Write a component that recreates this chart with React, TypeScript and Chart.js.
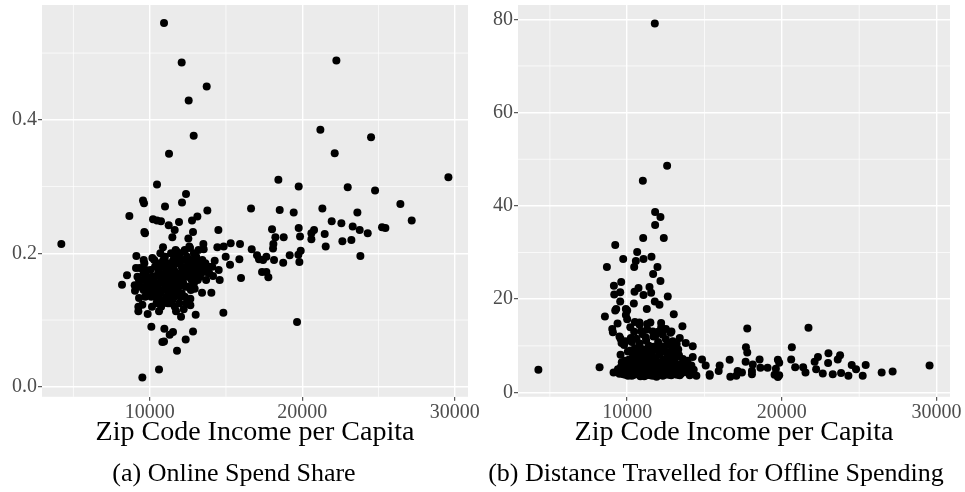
import React, { useEffect, useRef } from "react";
import { Chart, registerables } from "chart.js";

Chart.register(...registerables);

// ---------- axis ticks ----------
const incomeTicks = [10000, 20000, 30000];
const incomeMinorTicks = [5000, 15000, 25000];
const incomeRange = [2940, 30870];

const shareTicks = [0, 0.2, 0.4];
const shareMinorTicks = [0.1, 0.3, 0.5];
const shareRange = [-0.015, 0.572];

const distTicks = [0, 20, 40, 60, 80];
const distMinorTicks = [10, 30, 50, 70];
const distRange = [-0.92, 83.06];

// ---------- text ----------
const xAxisTitle = "Zip Code Income per Capita";
const captionA = "(a) Online Spend Share";
const captionB = "(b) Distance Travelled for Offline Spending";

// ---------- data: [income per capita, online spend share] ----------
const onlineShare: [number, number][] = [
  [4208, 0.214], [10940, 0.545], [12098, 0.486], [13738, 0.45], [12557, 0.429], [12885, 0.376],
  [11268, 0.349], [22240, 0.489], [21191, 0.385], [24514, 0.374], [22131, 0.35], [29585, 0.314],
  [18437, 0.31], [19770, 0.3], [22984, 0.299], [24776, 0.294], [10481, 0.303], [12383, 0.289],
  [9563, 0.279], [9628, 0.275], [12120, 0.276], [11005, 0.27], [16645, 0.267], [18525, 0.265],
  [21322, 0.267], [26437, 0.274], [19443, 0.261], [23617, 0.261], [13781, 0.264], [13126, 0.255],
  [12776, 0.249], [8667, 0.256], [10219, 0.251], [10481, 0.249], [10743, 0.248], [11923, 0.247],
  [11246, 0.242], [21934, 0.248], [22568, 0.245], [27180, 0.249], [11639, 0.235], [12842, 0.232],
  [9650, 0.232], [9694, 0.23], [14503, 0.235], [18022, 0.236], [19770, 0.238], [20776, 0.235],
  [20601, 0.23], [23311, 0.24], [23770, 0.235], [24295, 0.23], [25235, 0.239], [25454, 0.238],
  [11486, 0.224], [12535, 0.222], [18240, 0.224], [18787, 0.224], [19858, 0.225], [20601, 0.221],
  [21475, 0.229], [22634, 0.218], [23224, 0.22], [21541, 0.21], [18109, 0.214], [18087, 0.207],
  [10874, 0.209], [12645, 0.208], [13519, 0.214], [13541, 0.206], [15311, 0.215], [15923, 0.214],
  [16689, 0.206], [14437, 0.209], [14852, 0.21], [11749, 0.203], [12295, 0.204], [19902, 0.204],
  [19749, 0.198], [19180, 0.197], [17038, 0.197], [17650, 0.195], [17169, 0.191], [17432, 0.19],
  [18153, 0.19], [15880, 0.191], [14984, 0.195], [23814, 0.196], [19814, 0.187], [18754, 0.186],
  [15268, 0.183], [17366, 0.172], [17650, 0.172], [17781, 0.164], [15989, 0.163], [19661, 0.097],
  [14831, 0.111], [9126, 0.196], [9607, 0.19], [10175, 0.193], [9104, 0.178], [9344, 0.178],
  [8514, 0.167], [8186, 0.153], [9016, 0.152], [9038, 0.144], [9301, 0.133], [9257, 0.12],
  [9257, 0.113], [9869, 0.109], [9519, 0.123], [10109, 0.09], [10962, 0.087], [11530, 0.082],
  [11311, 0.078], [10831, 0.067], [10940, 0.068], [12842, 0.083], [12361, 0.071], [11792, 0.054],
  [10612, 0.026], [9519, 0.014], [10612, 0.113], [11727, 0.113], [12055, 0.105], [12230, 0.116],
  [12667, 0.122], [13016, 0.108], [12667, 0.132], [12951, 0.147], [13432, 0.141], [14044, 0.141],
  [14590, 0.16], [14525, 0.175], [14262, 0.189], [14153, 0.166], [13716, 0.172], [13388, 0.171],
  [9800, 0.16], [10000, 0.15], [10200, 0.165], [10400, 0.155], [10600, 0.145], [10800, 0.16],
  [11000, 0.17], [11200, 0.15], [11400, 0.165], [11600, 0.175], [11800, 0.16], [12000, 0.17],
  [12200, 0.155], [12400, 0.18], [12600, 0.165], [12800, 0.175], [13000, 0.16], [13200, 0.185],
  [9900, 0.14], [10100, 0.135], [10300, 0.145], [10500, 0.13], [10700, 0.14], [10900, 0.125],
  [11100, 0.135], [11300, 0.14], [11500, 0.13], [11700, 0.145], [11900, 0.15], [12100, 0.14],
  [12300, 0.135], [10050, 0.175], [10350, 0.18], [10650, 0.185], [10950, 0.18], [11250, 0.185],
  [11550, 0.19], [11850, 0.185], [12150, 0.19], [12450, 0.195], [12750, 0.19], [13050, 0.195],
  [13350, 0.18], [9700, 0.15], [9600, 0.17], [9500, 0.16], [10150, 0.12], [10450, 0.125],
  [10750, 0.12], [11050, 0.13], [11350, 0.125], [11650, 0.12], [11950, 0.125], [12500, 0.15],
  [12700, 0.145], [12900, 0.155], [13100, 0.17], [13300, 0.165], [13500, 0.175], [13700, 0.16],
  [13900, 0.17], [14100, 0.18], [11400, 0.2], [11700, 0.205], [12000, 0.2], [12300, 0.205],
  [12600, 0.21], [12900, 0.2], [13200, 0.205], [11000, 0.195], [10700, 0.2],
  [9650, 0.185], [9750, 0.175], [9850, 0.165], [9950, 0.155], [10050, 0.145], [10150, 0.16],
  [10250, 0.15], [10350, 0.165], [10450, 0.14], [10550, 0.17], [10650, 0.155], [10750, 0.165],
  [10850, 0.145], [10950, 0.155], [11050, 0.16], [11150, 0.145], [11250, 0.17], [11350, 0.155],
  [11450, 0.15], [11550, 0.16], [11650, 0.155], [11750, 0.17], [11850, 0.14], [11950, 0.165],
  [12050, 0.155], [12150, 0.175], [12250, 0.165], [12350, 0.15], [12450, 0.17], [12550, 0.185],
  [12650, 0.175], [12750, 0.16], [12850, 0.185], [12950, 0.17], [13050, 0.18], [13150, 0.16],
  [13250, 0.175], [13450, 0.19], [13650, 0.185], [13850, 0.18], [10300, 0.19], [10600, 0.175],
  [10900, 0.19], [11200, 0.18], [11500, 0.18], [11800, 0.195], [12100, 0.18], [12400, 0.165],
  [10400, 0.135], [10800, 0.13], [11200, 0.125], [11600, 0.135], [12000, 0.135], [12400, 0.125],
  [9700, 0.135], [9600, 0.145], [9400, 0.15], [9300, 0.16], [9200, 0.165],
];

// ---------- data: [income per capita, distance travelled] ----------
const offlineDistance: [number, number][] = [
  [4258, 4.9], [8215, 5.4], [11785, 79.1], [12581, 48.6], [11011, 45.4], [11806, 38.7],
  [12150, 37.6], [11806, 35.9], [12366, 33.1], [11032, 33.1], [9226, 31.6], [10645, 30.1],
  [9742, 28.6], [11054, 28.6], [11570, 29.1], [10559, 28.2], [8688, 26.9], [10452, 26.9],
  [11957, 26.9], [11677, 25.4], [12150, 23.9], [9613, 23.7], [9140, 22.9], [10731, 22.4],
  [11441, 22.6], [9548, 21.5], [10473, 21.6], [11548, 21.4], [9161, 21.0], [11054, 20.9],
  [12624, 20.6], [9548, 19.5], [11785, 19.5], [10430, 19.1], [12086, 18.8], [9914, 17.9],
  [10000, 17.6], [9290, 17.9], [9226, 17.6], [11269, 17.9], [13011, 16.8], [8559, 16.3],
  [9914, 16.6], [10000, 15.7], [10495, 15.1], [10796, 15.0], [9376, 14.8], [11290, 14.7],
  [12194, 14.9], [13570, 14.2], [17763, 13.7], [21720, 13.9], [9032, 13.6], [9075, 12.9],
  [10903, 13.2], [11656, 13.1], [12860, 13.1], [9570, 11.5], [9634, 10.6], [10237, 11.7],
  [11828, 12.2], [13398, 11.7], [13785, 10.6], [14237, 9.9], [12946, 11.0], [11226, 11.1],
  [10817, 9.7], [12108, 9.5], [12968, 9.1], [20645, 9.7], [17677, 9.7], [17763, 8.6],
  [9570, 8.1], [10043, 8.8], [11505, 8.4], [23011, 8.4], [23763, 8.0], [22333, 7.6],
  [23613, 7.1], [22118, 6.6], [20602, 7.1], [18559, 7.1], [16624, 7.0], [14839, 7.1],
  [14237, 7.6], [19742, 7.0], [19828, 6.4], [17656, 6.6], [22989, 6.3], [24516, 5.9],
  [25419, 5.9], [29548, 5.8], [24796, 5.0], [20860, 5.4], [21376, 5.4], [22215, 5.0],
  [15978, 5.8], [15075, 5.8], [18118, 6.0], [18613, 5.3], [19075, 5.3], [19613, 5.1],
  [15914, 4.6], [17140, 4.6], [18065, 4.6], [17419, 4.3], [17054, 3.6], [16667, 3.4],
  [15333, 3.9], [15333, 3.6], [18065, 3.9], [19527, 3.8], [19742, 3.3], [19828, 3.7],
  [21527, 4.3], [22645, 4.1], [23290, 3.9], [23828, 4.2], [24301, 3.6], [25226, 3.6],
  [26452, 4.3], [27161, 4.5], [14473, 3.6], [14043, 3.7], [13398, 3.7], [9118, 4.3],
  [9500, 4.0], [9700, 4.5], [9900, 3.8], [10100, 4.2], [10300, 3.6], [10500, 4.4],
  [10700, 3.9], [10900, 4.6], [11100, 3.5], [11300, 4.1], [11500, 3.7], [11700, 4.3],
  [11900, 3.4], [12100, 4.0], [12300, 3.6], [12500, 4.5], [12700, 3.8], [12900, 4.2],
  [13100, 3.9], [13300, 4.6], [13500, 4.1], [9600, 5.5], [9800, 5.0], [10000, 5.8],
  [10200, 5.2], [10400, 6.0], [10600, 5.4], [10800, 6.3], [11000, 5.1], [11200, 5.9],
  [11400, 5.3], [11600, 6.2], [11800, 5.0], [12000, 5.7], [12200, 6.4], [12400, 5.2],
  [12600, 6.1], [12800, 5.5], [13000, 6.3], [13200, 5.4], [13400, 6.0], [13600, 5.2],
  [13800, 5.9], [14000, 5.5], [10100, 7.0], [10350, 7.5], [10600, 8.0], [10850, 7.2],
  [11100, 7.8], [11350, 7.0], [11600, 8.5], [11850, 7.4], [12100, 8.2], [12350, 7.0],
  [12600, 7.8], [12850, 8.6], [13100, 7.3], [13350, 8.0], [13600, 7.2], [13900, 6.8],
  [10500, 9.5], [10800, 10.5], [11100, 9.2], [11400, 10.0], [11700, 9.8], [12000, 10.8],
  [12300, 9.4], [12600, 10.2], [12900, 9.6], [13200, 10.4], [9800, 10.2], [10200, 9.0],
  [11000, 12.5], [11300, 13.5], [11700, 12.0], [12000, 13.0], [12300, 12.4], [10800, 14.5],
  [11500, 15.0], [12200, 14.0], [12800, 12.8], [9500, 12.0], [9900, 11.0],
  [9400, 5.0], [9550, 4.2], [9650, 6.5], [9750, 3.9], [9850, 6.8], [9950, 4.8], [10050, 3.6],
  [10150, 6.3], [10250, 4.7], [10350, 5.4], [10450, 3.8], [10550, 6.7], [10650, 4.3], [10750, 5.6],
  [10850, 3.5], [10950, 7.0], [11050, 4.4], [11150, 6.4], [11250, 3.7], [11350, 5.5], [11450, 4.5],
  [11550, 7.1], [11650, 3.6], [11750, 5.4], [11850, 4.7], [11950, 6.6], [12050, 3.9], [12150, 5.3],
  [12250, 4.4], [12350, 6.2], [12450, 3.8], [12550, 5.6], [12650, 4.8], [12750, 6.9], [12850, 3.7],
  [12950, 5.1], [13050, 4.6], [13150, 6.0], [13250, 3.8], [13450, 5.0], [13650, 4.4], [13750, 6.6],
  [13950, 4.2], [14150, 5.8], [14300, 4.9], [10400, 8.8], [10700, 9.0], [11000, 8.4], [11300, 8.9],
  [11900, 9.1], [12200, 9.9], [12500, 8.7], [13000, 8.0], [13300, 9.2], [10300, 10.8], [10600, 11.5],
  [11200, 11.8], [12500, 11.4], [10450, 13.0], [10200, 14.0], [12500, 13.6],
];

const FONT = "'Liberation Serif', 'DejaVu Serif', serif";

const panelPlugin = {
  id: "panelBg",
  beforeDraw(chart: any, _args: any, opts: any) {
    const { ctx, chartArea: a, scales } = chart;
    ctx.save();
    ctx.fillStyle = "#ebebeb";
    ctx.fillRect(a.left, a.top, a.right - a.left, a.bottom - a.top);
    ctx.strokeStyle = "#ffffff";
    ctx.lineWidth = 0.7;
    for (const v of opts.xMinor || []) {
      const px = scales.x.getPixelForValue(v);
      if (px >= a.left && px <= a.right) {
        ctx.beginPath();
        ctx.moveTo(px, a.top);
        ctx.lineTo(px, a.bottom);
        ctx.stroke();
      }
    }
    for (const v of opts.yMinor || []) {
      const py = scales.y.getPixelForValue(v);
      if (py >= a.top && py <= a.bottom) {
        ctx.beginPath();
        ctx.moveTo(a.left, py);
        ctx.lineTo(a.right, py);
        ctx.stroke();
      }
    }
    ctx.restore();
  },
};

type PanelProps = {
  points: [number, number][];
  yTicks: number[];
  yMinor: number[];
  yRange: number[];
  yFmt: (v: number) => string;
  yAxisWidth: number;
  padRight: number;
  caption: string;
  width: number;
  left: number;
};

function Panel(p: PanelProps) {
  const ref = useRef<HTMLCanvasElement | null>(null);
  useEffect(() => {
    if (!ref.current) return;
    const chart = new Chart(ref.current, {
      type: "scatter",
      data: {
        datasets: [
          {
            data: p.points.map(([x, y]) => ({ x, y })),
            backgroundColor: "#000000",
            borderWidth: 0,
            pointRadius: 4,
            pointHoverRadius: 4,
          },
        ],
      },
      plugins: [panelPlugin],
      options: {
        animation: false,
        responsive: false,
        devicePixelRatio: 1,
        layout: { padding: { top: 5, right: p.padRight, left: 0, bottom: 0 } },
        plugins: {
          legend: { display: false },
          tooltip: { enabled: false },
          title: {
            display: true,
            position: "bottom",
            text: p.caption,
            color: "#000000",
            font: { family: FONT, size: 26, weight: "normal", lineHeight: 1.2 },
            padding: { top: 4, bottom: 2 },
          },
          panelBg: { xMinor: incomeMinorTicks, yMinor: p.yMinor },
        } as any,
        scales: {
          x: {
            type: "linear",
            min: incomeRange[0],
            max: incomeRange[1],
            afterBuildTicks: (s: any) => {
              s.ticks = incomeTicks.map((v) => ({ value: v }));
            },
            afterFit: (s: any) => {
              s.height = 58;
              s.paddingLeft = 0;
              s.paddingRight = 0;
            },
            ticks: {
              autoSkip: false,
              maxRotation: 0,
              padding: 0,
              color: "#4d4d4d",
              font: { family: FONT, size: 20 },
              callback: (v: any) => String(v),
            },
            grid: { color: "#ffffff", lineWidth: 1.4, tickLength: 4, tickColor: "#333333", tickWidth: 1 },
            border: { display: false },
            title: {
              display: true,
              text: xAxisTitle,
              color: "#000000",
              font: { family: FONT, size: 28, lineHeight: 1.2 },
              padding: { top: 0, bottom: 5 },
            },
          },
          y: {
            type: "linear",
            min: p.yRange[0],
            max: p.yRange[1],
            afterBuildTicks: (s: any) => {
              s.ticks = p.yTicks.map((v) => ({ value: v }));
            },
            afterFit: (s: any) => {
              s.width = p.yAxisWidth;
              s.paddingTop = 0;
              s.paddingBottom = 0;
            },
            ticks: {
              autoSkip: false,
              padding: 1,
              color: "#4d4d4d",
              font: { family: FONT, size: 20 },
              callback: (v: any) => p.yFmt(Number(v)),
            },
            grid: { color: "#ffffff", lineWidth: 1.4, tickLength: 4, tickColor: "#333333", tickWidth: 1 },
            border: { display: false },
          },
        },
      } as any,
    });
    return () => chart.destroy();
  }, []);
  return (
    <canvas
      ref={ref}
      width={p.width}
      height={492}
      style={{ position: "absolute", left: p.left, top: 0, width: p.width, height: 492 }}
    />
  );
}

export default function App() {
  return (
    <div style={{ position: "absolute", left: 0, top: 0, width: 965, height: 492, background: "#ffffff" }}>
      <Panel
        points={onlineShare}
        yTicks={shareTicks}
        yMinor={shareMinorTicks}
        yRange={shareRange}
        yFmt={(v) => v.toFixed(1)}
        yAxisWidth={42}
        padRight={17}
        caption={captionA}
        width={485}
        left={0}
      />
      <Panel
        points={offlineDistance}
        yTicks={distTicks}
        yMinor={distMinorTicks}
        yRange={distRange}
        yFmt={(v) => String(v)}
        yAxisWidth={36}
        padRight={15}
        caption={captionB}
        width={483}
        left={482}
      />
    </div>
  );
}
